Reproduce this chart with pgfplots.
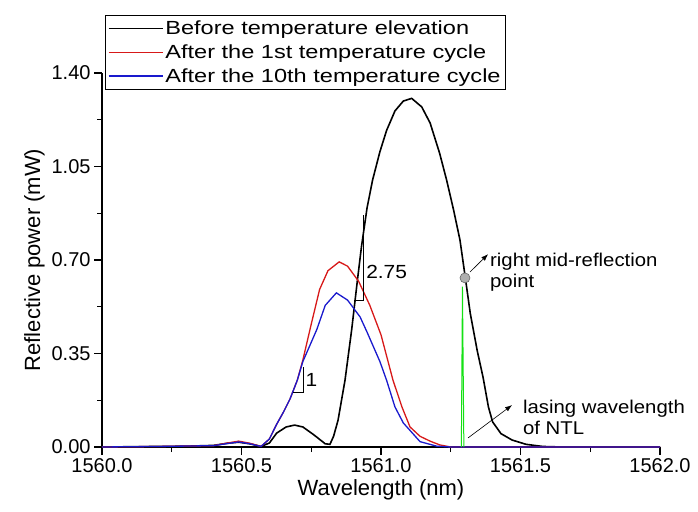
\documentclass[border=0pt]{standalone}
\usepackage{pgfplots}
\pgfplotsset{compat=1.18}
\usepackage{fontspec}
\setmainfont{Liberation Sans}
\newfontfamily\widefont{Liberation Sans}[FakeStretch=1.24]
\newfontfamily\midfont{Liberation Sans}[FakeStretch=1.1]
\usetikzlibrary{arrows.meta}
\definecolor{cred}{RGB}{215,25,25}
\definecolor{cblue}{RGB}{25,25,205}
\definecolor{cgreen}{RGB}{20,225,20}
\definecolor{cdot}{RGB}{175,175,175}
\begin{document}
\begin{tikzpicture}
\begin{axis}[
  name=ax,
  scale only axis,
  width=558bp, height=374bp,
  xmin=1560, xmax=1562, ymin=0, ymax=1.4,
  axis lines=left,
  axis line style={-, line width=1.6bp},
  xtick={1560,1560.5,1561,1561.5,1562},
  ytick={0,0.35,0.7,1.05,1.4},
  minor tick num=1,
  tick align=outside,
  major tick length=8bp, minor tick length=5bp,
  every tick/.style={black, line width=1.2bp},
  /pgf/number format/assume math mode=true,
  x tick label style={/pgf/number format/.cd, fixed, fixed zerofill, precision=1, set thousands separator={}},
  y tick label style={/pgf/number format/.cd, fixed, fixed zerofill, precision=2},
  tick label style={font=\fontsize{20bp}{24bp}\selectfont},
  label style={font=\fontsize{22bp}{26bp}\selectfont},
  xlabel={Wavelength (nm)},
  ylabel={Reflective power (mW)},
  clip=false,
  legend style={at={(rel axis cs:0.005,1.155)}, anchor=north west, draw=black, line width=1bp,
    font=\widefont\fontsize{19bp}{22bp}\selectfont, inner xsep=2.5bp, inner ysep=3.5bp, row sep=4.5bp, cells={anchor=west}},
  legend image code/.code={\draw[#1, line width=1.6bp] (0bp,0bp) -- (54bp,0bp);},
]
\addplot[black, line width=1.6bp] coordinates {
(1560.0,0) (1560.2,0.002) (1560.3,0.003) (1560.4,0.006) (1560.45,0.014) (1560.49,0.018)
(1560.53,0.012) (1560.57,0.002) (1560.60,0.015) (1560.626,0.052) (1560.66,0.075) (1560.69,0.082)
(1560.72,0.075) (1560.76,0.045) (1560.80,0.012) (1560.817,0.01) (1560.83,0.04) (1560.846,0.10)
(1560.871,0.25) (1560.895,0.44) (1560.915,0.62) (1560.93,0.75) (1560.95,0.895) (1560.97,1.0)
(1560.996,1.105) (1561.02,1.185) (1561.05,1.258) (1561.08,1.295) (1561.11,1.305) (1561.146,1.273)
(1561.176,1.213) (1561.21,1.10) (1561.235,1.0) (1561.26,0.888) (1561.283,0.775) (1561.30,0.65)
(1561.32,0.50) (1561.345,0.36) (1561.366,0.26) (1561.385,0.15) (1561.40,0.094) (1561.43,0.05)
(1561.47,0.026) (1561.52,0.01) (1561.58,0.002) (1561.65,0) (1562,0)};
\addlegendentry{Before temperature elevation}
\addplot[cred, line width=1.3bp] coordinates {
(1560,0) (1560.2,0.002) (1560.4,0.005) (1560.45,0.015) (1560.49,0.022) (1560.53,0.014)
(1560.57,0.002) (1560.6,0.03) (1560.626,0.085) (1560.65,0.13) (1560.674,0.18) (1560.70,0.25) (1560.72,0.326)
(1560.75,0.46) (1560.78,0.59) (1560.81,0.66) (1560.85,0.693) (1560.88,0.677) (1560.92,0.62)
(1560.96,0.53) (1561.0,0.42) (1561.043,0.25) (1561.075,0.15) (1561.104,0.075) (1561.14,0.04)
(1561.176,0.022) (1561.21,0.008) (1561.25,0) (1562,0)};
\addlegendentry{After the 1st temperature cycle}
\addplot[cblue, line width=1.3bp] coordinates {
(1560,0) (1560.2,0.002) (1560.4,0.005) (1560.45,0.013) (1560.49,0.019) (1560.53,0.012)
(1560.57,0.002) (1560.6,0.03) (1560.626,0.085) (1560.65,0.13) (1560.674,0.18) (1560.70,0.25) (1560.72,0.32)
(1560.77,0.44) (1560.80,0.53) (1560.84,0.577) (1560.88,0.55) (1560.925,0.487) (1560.95,0.43)
(1560.996,0.32) (1561.02,0.25) (1561.05,0.15) (1561.08,0.09) (1561.14,0.02) (1561.2,0.003)
(1561.25,0) (1562,0)};
\addlegendentry{After the 10th temperature cycle}
\addplot[cgreen, line width=1bp, forget plot] coordinates {
(1561.288,0) (1561.292,0.60) (1561.297,0)};
\addplot[only marks, mark=*, mark size=5bp, mark options={fill=cdot, draw=gray!80!black, line width=0.6bp}, forget plot]
  coordinates {(1561.301,0.633)};
% slope triangles
\draw[black, line width=0.8bp] (axis cs:1560.6846,0.2059) -- (axis cs:1560.7204,0.2059) -- (axis cs:1560.7204,0.2995);
\node[anchor=west, font=\midfont\fontsize{19bp}{22bp}\selectfont, inner sep=1bp] at (axis cs:1560.7255,0.2508) {1};
\draw[black, line width=0.8bp] (axis cs:1560.9032,0.5503) -- (axis cs:1560.9355,0.5503) -- (axis cs:1560.9355,0.8685);
\node[anchor=west, font=\midfont\fontsize{19bp}{22bp}\selectfont, inner sep=1bp] at (axis cs:1560.943,0.655) {2.75};
% annotations
\draw[-{Latex[length=7bp,width=5bp]}, black, line width=0.6bp] (axis cs:1561.319,0.655) -- (axis cs:1561.384,0.722);
\node[anchor=west, align=left, font=\midfont\fontsize{18.5bp}{21bp}\selectfont, inner sep=1bp] at (axis cs:1561.387,0.655) {right mid-reflection\\point};
\draw[-{Latex[length=7bp,width=5bp]}, black, line width=0.6bp] (axis cs:1561.312,0.034) -- (axis cs:1561.47,0.157);
\node[anchor=west, align=left, font=\midfont\fontsize{18.5bp}{21bp}\selectfont, inner sep=1bp] at (axis cs:1561.505,0.109) {lasing wavelength\\of NTL};
\end{axis}
\pgfresetboundingbox
\path[use as bounding box] ([shift={(-102bp,-65bp)}]ax.south west) rectangle ([shift={(596bp,447bp)}]ax.south west);
\end{tikzpicture}
\end{document}
